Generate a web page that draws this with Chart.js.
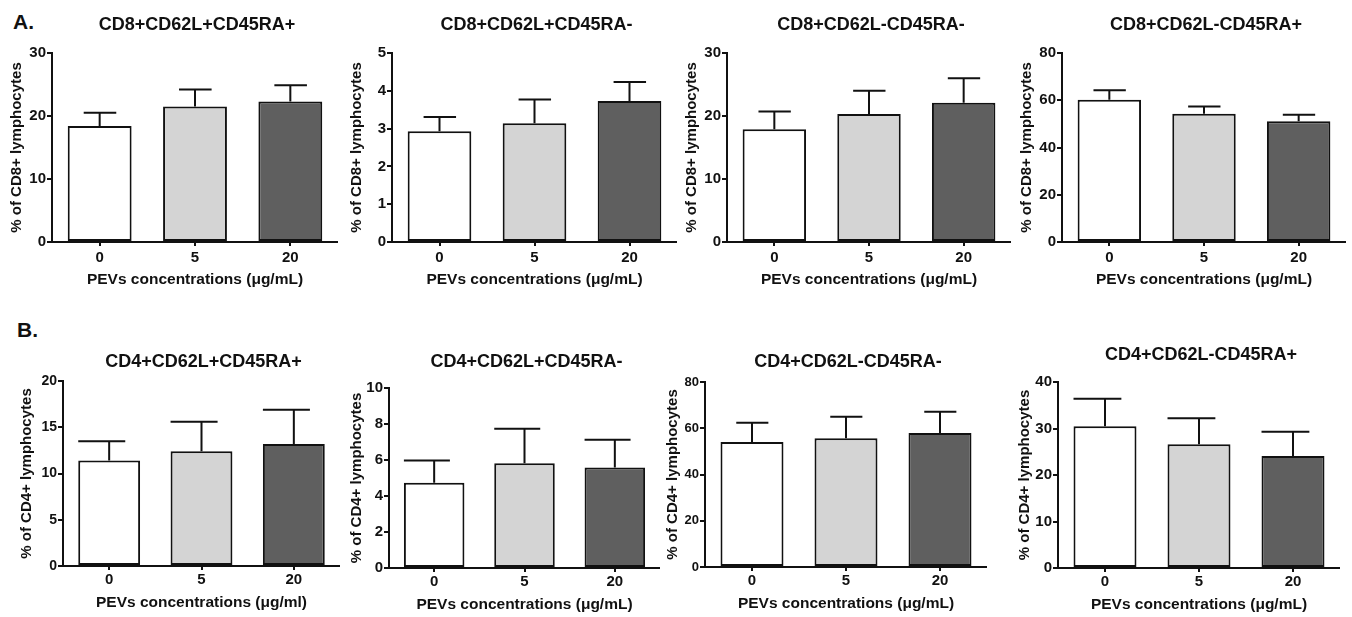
<!DOCTYPE html>
<html>
<head>
<meta charset="utf-8">
<script src="https://cdn.jsdelivr.net/npm/chart.js@4.4.1/dist/chart.umd.min.js"></script>
<style>
  body { margin: 0; background: #fff; }
  #page { position: relative; width: 1352px; height: 617px; overflow: hidden;
          font-family: "Liberation Sans", Arial, sans-serif; }
  #page canvas { position: absolute; }
  .tag { position: absolute; font-weight: bold; font-size: 21px; line-height: 21px; color: #111; }
</style>
</head>
<body>
<div id="page">
  <div class="tag" style="left:13px;top:11px">A.</div>
  <div class="tag" style="left:17px;top:319px">B.</div>
</div>
<script>
/* ---- data: PEV dose groups, mean and SEM (upper bar only) ---- */
const doses = ["0", "5", "20"];

const cd8NaiveMean = [18.4, 21.5, 22.3];   // CD8+CD62L+CD45RA+
const cd8NaiveSem  = [2.1, 2.7, 2.6];
const cd8CmMean    = [2.93, 3.14, 3.73];   // CD8+CD62L+CD45RA-
const cd8CmSem     = [0.38, 0.63, 0.50];
const cd8EmMean    = [17.9, 20.3, 22.1];   // CD8+CD62L-CD45RA-
const cd8EmSem     = [2.8, 3.7, 3.9];
const cd8EmraMean  = [60.2, 54.3, 51.1];   // CD8+CD62L-CD45RA+
const cd8EmraSem   = [4.0, 3.1, 2.8];

const cd4NaiveMean = [11.4, 12.4, 13.2];   // CD4+CD62L+CD45RA+
const cd4NaiveSem  = [2.1, 3.2, 3.7];
const cd4CmMean    = [4.74, 5.82, 5.58];   // CD4+CD62L+CD45RA-
const cd4CmSem     = [1.23, 1.91, 1.54];
const cd4EmMean    = [54.1, 55.7, 57.9];   // CD4+CD62L-CD45RA-
const cd4EmSem     = [8.3, 9.3, 9.2];
const cd4EmraMean  = [30.5, 26.6, 24.1];   // CD4+CD62L-CD45RA+
const cd4EmraSem   = [5.9, 5.6, 5.2];

const yMaxes  = [30, 5, 30, 80, 20, 10, 80, 40];
const ySteps  = [10, 1, 10, 20, 5, 2, 20, 10];

const panels = [
  { title: "CD8+CD62L+CD45RA+", y: "% of CD8+ lymphocytes", x: "PEVs concentrations (μg/mL)", mean: cd8NaiveMean, sem: cd8NaiveSem },
  { title: "CD8+CD62L+CD45RA-", y: "% of CD8+ lymphocytes", x: "PEVs concentrations (μg/mL)", mean: cd8CmMean, sem: cd8CmSem },
  { title: "CD8+CD62L-CD45RA-", y: "% of CD8+ lymphocytes", x: "PEVs concentrations (μg/mL)", mean: cd8EmMean, sem: cd8EmSem },
  { title: "CD8+CD62L-CD45RA+", y: "% of CD8+ lymphocytes", x: "PEVs concentrations (μg/mL)", mean: cd8EmraMean, sem: cd8EmraSem },
  { title: "CD4+CD62L+CD45RA+", y: "% of CD4+ lymphocytes", x: "PEVs concentrations (μg/ml)", mean: cd4NaiveMean, sem: cd4NaiveSem },
  { title: "CD4+CD62L+CD45RA-", y: "% of CD4+ lymphocytes", x: "PEVs concentrations (μg/mL)", mean: cd4CmMean, sem: cd4CmSem },
  { title: "CD4+CD62L-CD45RA-", y: "% of CD4+ lymphocytes", x: "PEVs concentrations (μg/mL)", mean: cd4EmMean, sem: cd4EmSem },
  { title: "CD4+CD62L-CD45RA+", y: "% of CD4+ lymphocytes", x: "PEVs concentrations (μg/mL)", mean: cd4EmraMean, sem: cd4EmraSem },
];

/* ---- layout: plot area edges per panel, in page pixels ---- */
const YW = 48, XH = 48, TOP_PAD = 45;
const boxes = [
  { l: 52,   r: 338,  t: 53,  b: 242, titleGap: 28, yTitlePad: 4, tickPad: 3, xTitlePad: 0.7, capLeft: 0.25, yTick: 15 },
  { l: 392,  r: 677,  t: 53,  b: 242, titleGap: 28, yTitlePad: 4, tickPad: 3, xTitlePad: 0.7, capLeft: 0.25, yTick: 15 },
  { l: 727,  r: 1011, t: 53,  b: 242, titleGap: 28, yTitlePad: 4, tickPad: 3, xTitlePad: 0.7, capLeft: 0.25, yTick: 15 },
  { l: 1062, r: 1346, t: 53,  b: 242, titleGap: 28, yTitlePad: 4, tickPad: 3, xTitlePad: 0.7, capLeft: 0.25, yTick: 15 },
  { l: 63,   r: 340,  t: 381, b: 566, titleGap: 19, yTitlePad: 3, tickPad: 1, xTitlePad: 1.7, capLeft: 0.5,  yTick: 14 },
  { l: 389,  r: 660,  t: 388, b: 568, titleGap: 26, yTitlePad: 7, tickPad: 1, xTitlePad: 1.7, capLeft: 0.5,  yTick: 15 },
  { l: 705,  r: 987,  t: 382, b: 567, titleGap: 20, yTitlePad: 7, tickPad: 1, xTitlePad: 1.7, capLeft: 0.25, yTick: 13 },
  { l: 1058, r: 1340, t: 382, b: 568, titleGap: 27, yTitlePad: 6, tickPad: 1, xTitlePad: 1.7, capLeft: 0.5,  yTick: 15 },
];

const barFills = ["#ffffff", "#d4d4d4", "#5f5f5f"];
const INK = "#111";

Chart.defaults.font.family = "'Liberation Sans', Arial, sans-serif";

// upper-only SEM whiskers, placed through the y scale
const errorBars = {
  id: "errorBars",
  afterDatasetsDraw(chart, args, opts) {
    const { ctx } = chart;
    const y = chart.scales.y;
    const meta = chart.getDatasetMeta(0);
    const vals = chart.data.datasets[0].data;
    ctx.save();
    ctx.strokeStyle = INK;
    ctx.lineWidth = 2;
    meta.data.forEach((bar, i) => {
      const top = y.getPixelForValue(vals[i] + opts.sem[i]);
      ctx.beginPath();
      ctx.moveTo(bar.x, bar.y);
      ctx.lineTo(bar.x, top);
      ctx.moveTo(bar.x - bar.width * opts.capLeft, top);
      ctx.lineTo(bar.x + bar.width * opts.capRight, top);
      ctx.stroke();
    });
    ctx.restore();
  }
};

// panel title centred over the plot area
const panelTitle = {
  id: "panelTitle",
  afterDraw(chart, args, opts) {
    const { ctx, chartArea } = chart;
    ctx.save();
    ctx.font = "bold 18px 'Liberation Sans', Arial, sans-serif";
    ctx.fillStyle = INK;
    ctx.textAlign = "center";
    ctx.textBaseline = "middle";
    ctx.fillText(opts.text, (chartArea.left + chartArea.right) / 2 + 2, chartArea.top - opts.gap);
    ctx.restore();
  }
};

const page = document.getElementById("page");

panels.forEach((p, i) => {
  const box = boxes[i];
  const left = box.l - YW, top = box.t - TOP_PAD;
  const w = box.r - left, h = TOP_PAD + (box.b - box.t) + XH;
  const canvas = document.createElement("canvas");
  canvas.width = w; canvas.height = h;
  canvas.style.left = left + "px"; canvas.style.top = top + "px";
  canvas.style.width = w + "px"; canvas.style.height = h + "px";
  page.appendChild(canvas);

  new Chart(canvas, {
    type: "bar",
    data: {
      labels: doses,
      datasets: [{
        data: p.mean,
        backgroundColor: barFills,
        borderColor: INK,
        borderWidth: 2,
        borderSkipped: false,
        barPercentage: 0.67,
        categoryPercentage: 1,
      }],
    },
    options: {
      responsive: false,
      animation: false,
      devicePixelRatio: 1,
      layout: { padding: { top: TOP_PAD, left: 0, right: 0, bottom: 0 } },
      plugins: {
        legend: { display: false },
        tooltip: { enabled: false },
        errorBars: { sem: p.sem, capLeft: box.capLeft, capRight: 0.26 },
        panelTitle: { text: p.title, gap: box.titleGap },
      },
      scales: {
        x: {
          offset: true,
          grid: { offset: false, drawOnChartArea: false, tickLength: 4, color: INK, lineWidth: 2 },
          border: { color: INK, width: 2 },
          ticks: { color: INK, font: { size: 15, weight: "bold" }, padding: box.tickPad, maxRotation: 0 },
          title: { display: true, text: p.x, color: INK, font: { size: 15.5, weight: "bold" },
                   padding: { top: 0, bottom: box.xTitlePad } },
          afterFit(s) { s.height = XH; },
        },
        y: {
          min: 0,
          max: yMaxes[i],
          ticks: { stepSize: ySteps[i], color: INK, font: { size: box.yTick, weight: "bold" }, padding: 1 },
          grid: { drawOnChartArea: false, tickLength: 5, color: INK, lineWidth: 2 },
          border: { color: INK, width: 2 },
          title: { display: true, text: p.y, color: INK, font: { size: 15, weight: "bold" },
                   padding: { top: box.yTitlePad, bottom: 0 } },
          afterFit(s) { s.width = YW; },
        },
      },
    },
    plugins: [errorBars, panelTitle],
  });
});
</script>
</body>
</html>
